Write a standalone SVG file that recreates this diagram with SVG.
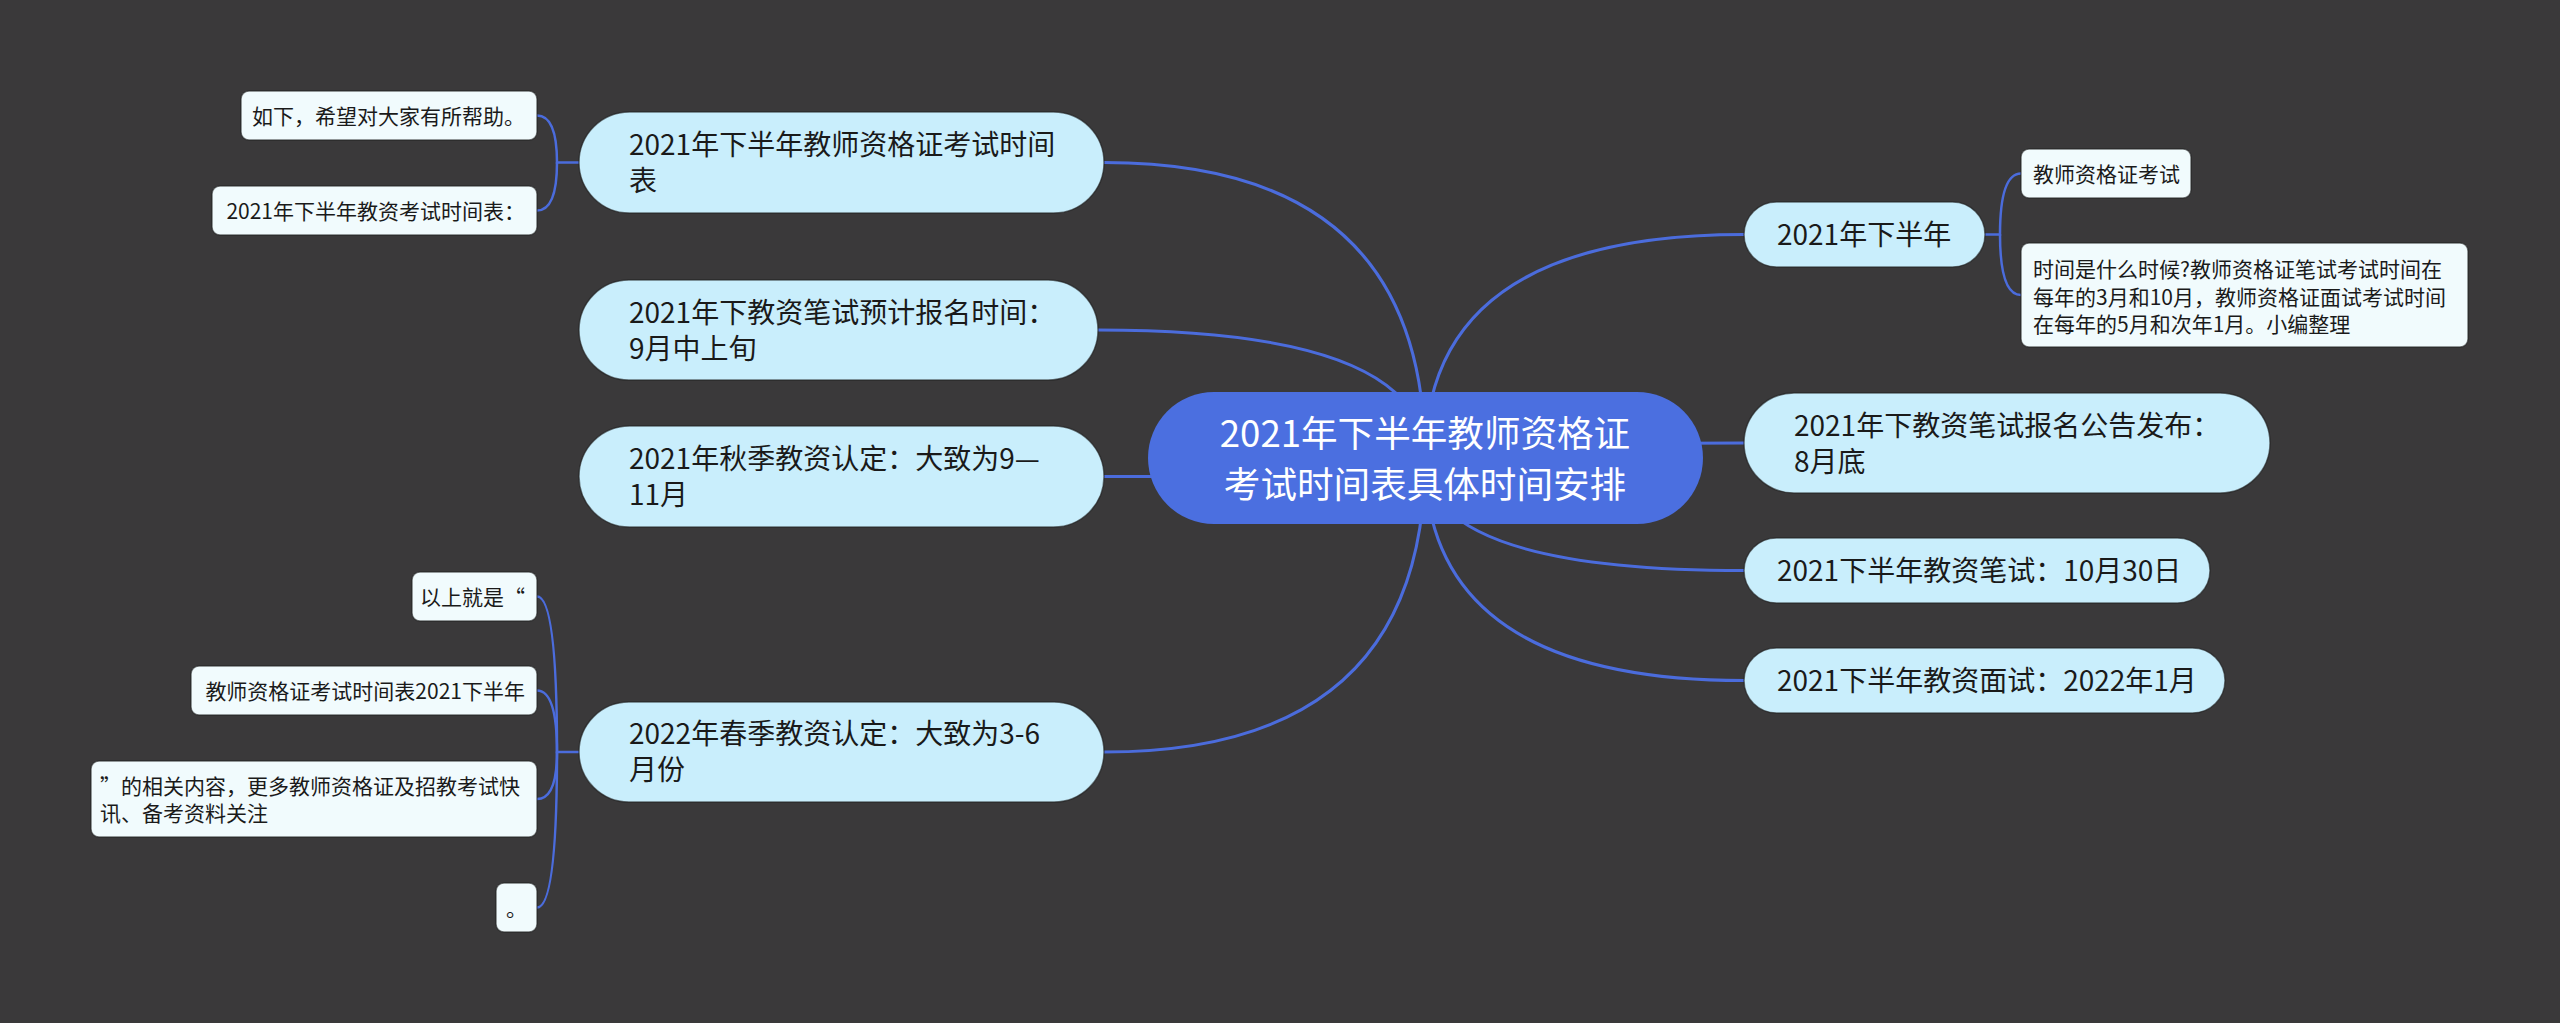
<svg xmlns="http://www.w3.org/2000/svg" width="2560" height="1023" viewBox="0 0 2560 1023">
<style>
.bg{fill:#3a393a}
.link{fill:none;stroke:#4b6cdc;stroke-width:3;stroke-linecap:round}
.sub{fill:none;stroke:#4b6cdc;stroke-width:2.5;stroke-linecap:round}
.root{fill:#4b6fe0}
.l1{fill:#c9eefc;stroke:#1f1f1f;stroke-opacity:0.6;stroke-width:1.5}
.l2{fill:#f1fbfd;stroke:#1f1f1f;stroke-opacity:0.6;stroke-width:1.5}
text{font-family:"Noto Sans CJK SC","Noto Sans",sans-serif}
.t0{font-size:36.6px;fill:#ffffff;text-anchor:middle}
.t1{font-size:28px;fill:#1a1a1a}
.t2{font-size:21px;fill:#1a1a1a}
.e{text-anchor:end}
</style>
<rect class="bg" x="0" y="0" width="2560" height="1023"/>
<g id="connectors">
<path class="link" d="M1425,458 Q1425,162.5 1104,162.5"/>
<path class="link" d="M1425,458 Q1425,330 1098,330"/>
<path class="link" d="M1425,458 Q1425,476.5 1104,476.5"/>
<path class="link" d="M1425,458 Q1425,752 1104,752"/>
<path class="link" d="M1425,458 Q1425,234.5 1744,234.5"/>
<path class="link" d="M1425,458 Q1425,443 1744,443"/>
<path class="link" d="M1425,458 Q1425,570.5 1744,570.5"/>
<path class="link" d="M1425,458 Q1425,680.5 1744,680.5"/>
<path class="sub" d="M579,162.5 H557 Q557,115.5 537,115.5"/>
<path class="sub" d="M557,162.5 Q557,210.5 537,210.5"/>
<path class="sub" d="M579,752 H557 Q557,596.5 537,596.5"/>
<path class="sub" d="M557,752 Q557,690.5 537,690.5"/>
<path class="sub" d="M557,752 Q557,799 537,799"/>
<path class="sub" d="M557,752 Q557,907.5 537,907.5"/>
<path class="sub" d="M1985,234.5 H2000 Q2000,173.5 2021,173.5"/>
<path class="sub" d="M2000,234.5 Q2000,295 2021,295"/>
</g>
<g id="root">
<rect class="root" x="1148" y="392" width="555" height="132" rx="66"/>
<text class="t0" x="1425" y="447">2021年下半年教师资格证</text>
<text class="t0" x="1425" y="498">考试时间表具体时间安排</text>
</g>
<g id="n1">
<rect class="l1" x="579" y="112" width="525" height="101" rx="50.5"/>
<text class="t1" x="629" y="155">2021年下半年教师资格证考试时间</text>
<text class="t1" x="629" y="191">表</text>
</g>
<g id="n2">
<rect class="l1" x="579" y="280" width="519" height="100" rx="50"/>
<text class="t1" x="629" y="323">2021年下教资笔试预计报名时间：</text>
<text class="t1" x="629" y="359">9月中上旬</text>
</g>
<g id="n3">
<rect class="l1" x="579" y="426" width="525" height="101" rx="50.5"/>
<text class="t1" x="629" y="469">2021年秋季教资认定：大致为9—</text>
<text class="t1" x="629" y="505">11月</text>
</g>
<g id="n4">
<rect class="l1" x="579" y="702" width="525" height="100" rx="50"/>
<text class="t1" x="629" y="744">2022年春季教资认定：大致为3-6</text>
<text class="t1" x="629" y="780">月份</text>
</g>
<g id="n5">
<rect class="l1" x="1744" y="202" width="241" height="65" rx="32.5"/>
<text class="t1" x="1777" y="245">2021年下半年</text>
</g>
<g id="n6">
<rect class="l1" x="1744" y="393" width="526" height="100" rx="50"/>
<text class="t1" x="1794" y="436">2021年下教资笔试报名公告发布：</text>
<text class="t1" x="1794" y="472">8月底</text>
</g>
<g id="n7">
<rect class="l1" x="1744" y="538" width="466" height="65" rx="32.5"/>
<text class="t1" x="1777" y="581">2021下半年教资笔试：10月30日</text>
</g>
<g id="n8">
<rect class="l1" x="1744" y="648" width="481" height="65" rx="32.5"/>
<text class="t1" x="1777" y="691">2021下半年教资面试：2022年1月</text>
</g>
<g id="n1a">
<rect class="l2" x="241" y="91" width="296" height="49" rx="8"/>
<text class="t2 e" x="525" y="123.5">如下，希望对大家有所帮助。</text>
</g>
<g id="n1b">
<rect class="l2" x="212" y="186" width="325" height="49" rx="8"/>
<text class="t2 e" x="525" y="218.5">2021年下半年教资考试时间表：</text>
</g>
<g id="n4a">
<rect class="l2" x="412" y="572" width="125" height="49" rx="8"/>
<text class="t2 e" x="525" y="604.5">以上就是“</text>
</g>
<g id="n4b">
<rect class="l2" x="191" y="666" width="346" height="49" rx="8"/>
<text class="t2 e" x="525" y="698.5">教师资格证考试时间表2021下半年</text>
</g>
<g id="n4c">
<rect class="l2" x="91" y="761" width="446" height="76" rx="8"/>
<text class="t2" x="100" y="794">”的相关内容，更多教师资格证及招教考试快</text>
<text class="t2" x="100" y="821">讯、备考资料关注</text>
</g>
<g id="n4d">
<rect class="l2" x="496" y="883" width="41" height="49" rx="8"/>
<text class="t2" x="506" y="915.5">。</text>
</g>
<g id="n5a">
<rect class="l2" x="2021" y="149" width="170" height="49" rx="8"/>
<text class="t2" x="2033" y="181.5">教师资格证考试</text>
</g>
<g id="n5b">
<rect class="l2" x="2021" y="243" width="447" height="104" rx="8"/>
<text class="t2" x="2033" y="277">时间是什么时候?教师资格证笔试考试时间在</text>
<text class="t2" x="2033" y="304.5">每年的3月和10月，教师资格证面试考试时间</text>
<text class="t2" x="2033" y="332">在每年的5月和次年1月。小编整理</text>
</g>
</svg>
